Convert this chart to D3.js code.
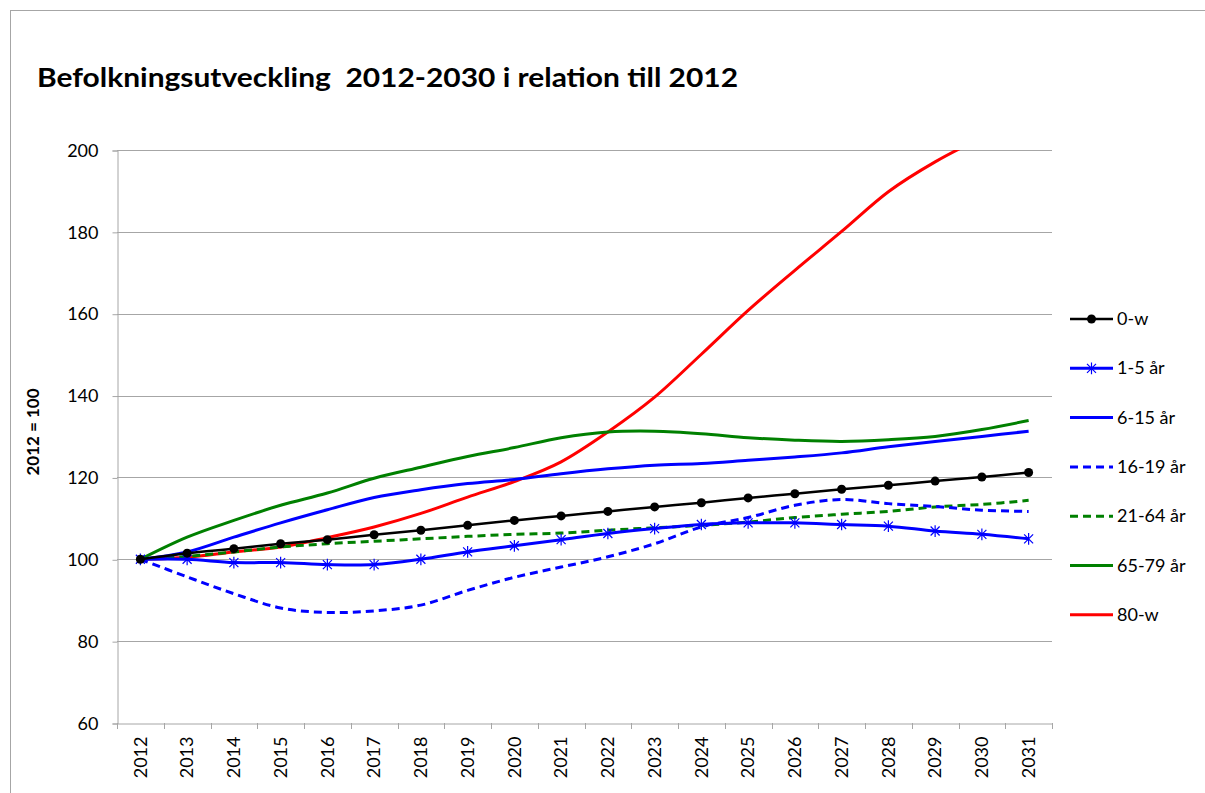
<!DOCTYPE html>
<html>
<head>
<meta charset="utf-8">
<script src="https://cdn.jsdelivr.net/npm/d3@7"></script>
<style>
  body { margin: 0; background: #fff; }
  svg text { font-family: Lato, "Liberation Sans", Arial, sans-serif; fill: #000; }
</style>
</head>
<body>
<div id="chart"></div>
<script>
// Data (index, 2012 = 100)
const years = ['2012','2013','2014','2015','2016','2017','2018','2019','2020','2021',
               '2022','2023','2024','2025','2026','2027','2028','2029','2030','2031'];

const yTicks = [60, 80, 100, 120, 140, 160, 180, 200];

const allAges   = [100, 101.5, 102.6, 103.8, 104.8, 106.0, 107.1, 108.3, 109.5, 110.6,
                   111.7, 112.8, 113.8, 115.0, 116.0, 117.1, 118.1, 119.1, 120.1, 121.2];
const age1to5   = [100, 100.0, 99.2, 99.2, 98.7, 98.7, 100.0, 101.8, 103.3, 104.8,
                   106.3, 107.5, 108.5, 108.9, 108.9, 108.5, 108.1, 106.9, 106.1, 105.0];
const age6to15  = [100, 101.8, 105.4, 108.9, 112.1, 115.1, 117.0, 118.5, 119.5, 120.9,
                   122.1, 123.0, 123.4, 124.2, 125.0, 126.0, 127.5, 128.8, 130.0, 131.3];
const age16to19 = [100, 95.7, 91.6, 88.1, 87.0, 87.4, 88.8, 92.4, 95.6, 98.1,
                   100.6, 103.8, 107.9, 110.2, 113.2, 114.6, 113.6, 112.9, 112.0, 111.7];
const age21to64 = [100, 100.7, 101.8, 103.0, 103.8, 104.4, 105.0, 105.6, 106.1, 106.4,
                   107.1, 107.7, 108.3, 109.1, 110.2, 111.0, 111.7, 112.8, 113.4, 114.4];
const age65to79 = [100, 105.4, 109.5, 113.2, 116.2, 119.8, 122.5, 125.1, 127.3, 129.7,
                   131.1, 131.3, 130.7, 129.7, 129.1, 128.8, 129.2, 130.0, 131.7, 133.9];
const age80plus = [100, 100.5, 101.8, 103.0, 105.3, 107.9, 111.2, 115.2, 119.0, 123.8,
                   131.1, 139.6, 150.1, 160.8, 170.6, 180.1, 189.8, 197.1, 203.0, 208.0];

const seriesNames = ['0-w', '1-5 år', '6-15 år', '16-19 år', '21-64 år', '65-79 år', '80-w'];
const seriesValues = [allAges, age1to5, age6to15, age16to19, age21to64, age65to79, age80plus];

// Styles for each series
const styles = [
  { color: '#000000', width: 2.5, dash: null, marker: 'circle' },
  { color: '#0000ff', width: 3,   dash: null, marker: 'star' },
  { color: '#0000ff', width: 3,   dash: null, marker: null },
  { color: '#0000ff', width: 3,   dash: '8,5', marker: null },
  { color: '#008000', width: 3,   dash: '8,5', marker: null },
  { color: '#008000', width: 3,   dash: null, marker: null },
  { color: '#ff0000', width: 3,   dash: null, marker: null }
];

const width = 1205, height = 793;
const plot = { left: 117, right: 1052, top: 150, bottom: 723 };
const fontFamily = 'Lato, "Liberation Sans", Arial, sans-serif';

const svg = d3.select('#chart').append('svg')
  .attr('width', width)
  .attr('height', height);

// Outer chart frame (runs past the right and bottom edge of the picture)
svg.append('rect')
  .attr('x', 10.5).attr('y', 10.5)
  .attr('width', 1300).attr('height', 900)
  .attr('fill', 'none')
  .attr('stroke', '#a6a6a6')
  .attr('stroke-width', 1);

// Title
svg.append('text')
  .attr('x', 37)
  .attr('y', 87)
  .attr('font-size', '27px')
  .attr('font-weight', 'bold')
  .attr('textLength', 701)
  .attr('lengthAdjust', 'spacingAndGlyphs')
  .style('white-space', 'pre')
  .text('Befolkningsutveckling  2012-2030 i relation till 2012');

// Scales
const x = d3.scaleBand()
  .domain(years)
  .range([plot.left, plot.right])
  .paddingInner(0)
  .paddingOuter(0);

const y = d3.scaleLinear()
  .domain([60, 200])
  .range([plot.bottom, plot.top]);

const cx = d => x(d) + x.bandwidth() / 2;

// Gridlines
svg.append('g')
  .selectAll('line')
  .data(yTicks.filter(t => t > 60))
  .enter()
  .append('line')
  .attr('x1', plot.left)
  .attr('x2', plot.right)
  .attr('y1', d => Math.round(y(d)) + 0.5)
  .attr('y2', d => Math.round(y(d)) + 0.5)
  .attr('stroke', '#a6a6a6')
  .attr('stroke-width', 1);

// Y axis
const yAxis = svg.append('g')
  .attr('transform', `translate(${plot.left + 0.5},0.5)`)
  .call(d3.axisLeft(y).tickValues(yTicks).tickSize(5).tickPadding(14));
yAxis.selectAll('path, line').attr('stroke', '#a6a6a6');
yAxis.selectAll('text')
  .attr('font-size', '18px')
  .attr('font-family', fontFamily)
  .attr('fill', '#000');

// X axis: labels at category centres, ticks on the boundaries
const xAxis = svg.append('g')
  .attr('transform', `translate(0,${plot.bottom + 0.5})`)
  .call(d3.axisBottom(x).tickSize(0).tickPadding(0));
xAxis.select('.domain').attr('stroke', '#a6a6a6');
xAxis.selectAll('text')
  .attr('font-size', '18px')
  .attr('font-family', fontFamily)
  .attr('fill', '#000')
  .attr('transform', 'translate(0,13) rotate(-90)')
  .attr('text-anchor', 'end')
  .attr('dy', '0.35em')
  .attr('y', 0)
  .attr('x', 0);

svg.append('g')
  .selectAll('line')
  .data(years.concat(['end']))
  .enter()
  .append('line')
  .attr('x1', (d, i) => Math.round(plot.left + i * x.bandwidth()) + 0.5)
  .attr('x2', (d, i) => Math.round(plot.left + i * x.bandwidth()) + 0.5)
  .attr('y1', plot.bottom)
  .attr('y2', plot.bottom + 6)
  .attr('stroke', '#a6a6a6');

// Y axis title
svg.append('text')
  .attr('transform', 'translate(39,432) rotate(-90)')
  .attr('text-anchor', 'middle')
  .attr('font-size', '17px')
  .attr('font-weight', 'bold')
  .text('2012 = 100');

// Clip to plot area (80-w goes above 200)
svg.append('clipPath')
  .attr('id', 'plotClip')
  .append('rect')
  .attr('x', plot.left)
  .attr('y', plot.top)
  .attr('width', plot.right - plot.left)
  .attr('height', plot.bottom - plot.top);

const line = d3.line()
  .x((d, i) => cx(years[i]))
  .y(d => y(d))
  .curve(d3.curveCardinal.tension(0));

const starPath = s => `M${-s},${-s}L${s},${s}M${-s},${s}L${s},${-s}M0,${-s * 1.3}L0,${s * 1.3}`;

const series = svg.append('g')
  .attr('clip-path', 'url(#plotClip)');

// Draw in reverse so 0-w is on top
d3.range(seriesNames.length).reverse().forEach(k => {
  const st = styles[k];
  const g = series.append('g');
  g.append('path')
    .datum(seriesValues[k])
    .attr('d', line)
    .attr('fill', 'none')
    .attr('stroke', st.color)
    .attr('stroke-width', st.width)
    .attr('stroke-dasharray', st.dash);

  if (st.marker === 'circle') {
    g.selectAll('circle')
      .data(seriesValues[k])
      .enter()
      .append('circle')
      .attr('cx', (d, i) => cx(years[i]))
      .attr('cy', d => y(d))
      .attr('r', 4.5)
      .attr('fill', st.color);
  } else if (st.marker === 'star') {
    g.selectAll('path.star')
      .data(seriesValues[k])
      .enter()
      .append('path')
      .attr('class', 'star')
      .attr('transform', (d, i) => `translate(${cx(years[i])},${y(d)})`)
      .attr('d', starPath(4.5))
      .attr('fill', 'none')
      .attr('stroke', st.color)
      .attr('stroke-width', 1.2);
  }
});

// Legend
const legend = svg.append('g')
  .attr('class', 'legend')
  .attr('transform', 'translate(1070,319)');

seriesNames.forEach((name, k) => {
  const st = styles[k];
  const item = legend.append('g')
    .attr('transform', `translate(0,${k * 49.3})`);
  item.append('line')
    .attr('x1', 0).attr('x2', 43)
    .attr('y1', 0).attr('y2', 0)
    .attr('stroke', st.color)
    .attr('stroke-width', st.width)
    .attr('stroke-dasharray', st.dash);
  if (st.marker === 'circle') {
    item.append('circle').attr('cx', 21.5).attr('cy', 0).attr('r', 4.5).attr('fill', st.color);
  } else if (st.marker === 'star') {
    item.append('path')
      .attr('transform', 'translate(21.5,0)')
      .attr('d', starPath(4.5))
      .attr('fill', 'none')
      .attr('stroke', st.color)
      .attr('stroke-width', 1.2);
  }
  item.append('text')
    .attr('x', 47)
    .attr('y', 6)
    .attr('font-size', '18px')
    .text(name);
});
</script>
</body>
</html>
